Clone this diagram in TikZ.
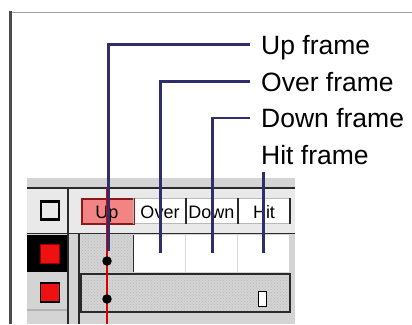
\documentclass[tikz,border=0pt]{standalone}
\usepackage{fontspec}
\setmainfont{Liberation Sans}
\usetikzlibrary{patterns, calc}
\definecolor{navy}{HTML}{2E2E6E}
\definecolor{panel}{HTML}{D4D4D4}
\definecolor{hdr}{HTML}{E9E9E9}
\definecolor{salmon}{HTML}{F48484}
\definecolor{tabred}{HTML}{8A1A1A}
\definecolor{edge}{HTML}{2A2A2A}
\definecolor{keyred}{HTML}{EE1111}

\begin{document}
\begin{tikzpicture}[
  x=1pt, y=-1pt,
  lbl/.style={font=\fontsize{26.5}{30}\selectfont, anchor=west, inner sep=0pt,
              text height=19pt, text depth=0pt},
  tab/.style={rectangle, draw=gray!55, line width=0.8pt, fill=white,
              minimum width=52pt, minimum height=25pt, inner sep=0pt,
              anchor=north west},
  tabtxt/.style={font=\fontsize{18}{20}\selectfont, inner sep=0pt, anchor=base},
  cell/.style={rectangle, draw=none, fill=white, minimum width=52pt,
               minimum height=37pt, inner sep=0pt, anchor=north west},
  hatch/.style={fill=gray!8, pattern=crosshatch dots, pattern color=gray!55},
  keysq/.style={rectangle, fill=keyred, inner sep=0pt, minimum size=19pt},
  dark/.style={draw=edge, line width=1.6pt},
  callout/.style={draw=navy, line width=2.6pt},
  keydot/.style={circle, fill=black, inner sep=0pt, minimum size=9.5pt}
]
\useasboundingbox (0,0) rectangle (412,324);
\fill[white] (0,0) rectangle (412,324);

% --- window edges ---
\draw[gray!75, line width=1.5pt] (11,12.5) -- (412,12.5);
\draw[gray!60!black, line width=3pt] (10,11) -- (10,324);

% --- timeline panel ---
\fill[panel] (27,178) rectangle (295,324);
\fill[hdr] (27,189) rectangle (295,233);
\draw[dark] (27,188) -- (295,188);
\draw[dark] (27,233.5) -- (295,233.5);
\draw[dark] (68,188) -- (68,324);
\draw[dark] (79,233) -- (79,324);
\draw[gray!60, line width=1.2pt] (27,310) -- (67,310);

% --- layer column ---
\node[rectangle, draw=black, line width=2.6pt, fill=hdr, minimum size=18pt,
      inner sep=0pt] (eye) at (50,210.5) {};
\fill[black] (27,235) rectangle (67,272);
\node[keysq, draw=red!60!black, line width=0.6pt] (lay1) at (50,254) {};
\node[keysq, draw=black, line width=1.4pt] (lay2) at (50,292.5) {};

% --- frame tabs ---
\node[tab, fill=salmon, draw=tabred, line width=1.5pt] (tUp) at (81,198) {};
\node[tab] (tOver) at (133,198) {};
\node[tab] (tDown) at (185,198) {};
\node[tab] (tHit)  at (237,198) {};
\draw[tabred, line width=1.5pt] (tUp.north east) -- (tUp.south east);
\draw[dark] (tOver.north east) -- (tOver.south east);
\draw[dark] (tDown.north east) -- (tDown.south east);
\draw[dark] (tHit.north east) -- (tHit.south east);
\node[tabtxt] at (107,218) {Up};
\node[tabtxt] at (160,218) {Over};
\node[tabtxt] at (211.5,218) {Down};
\node[tabtxt] at (264,218) {Hit};

% --- frame cells ---
\node[cell, hatch] (cellUp) at (81,235) {};
\node[cell] (cellOver) at (133,235) {};
\node[cell] (cellDown) at (185,235) {};
\node[cell] (cellHit)  at (237,235) {};
\draw[gray!30, line width=0.6pt] (cellOver.north east) -- (cellOver.south east);
\draw[gray!30, line width=0.6pt] (cellDown.north east) -- (cellDown.south east);
\draw[dark] (cellUp.north east) -- (cellUp.south east);
\node[rectangle, hatch, draw=edge, line width=1.6pt, minimum width=209pt,
      minimum height=38pt, inner sep=0pt, anchor=north west] (row2) at (80,273) {};
\node[rectangle, draw=black, fill=white, line width=1.5pt, minimum width=8pt,
      minimum height=15pt, inner sep=0pt] (endKey) at (262.5,299) {};

% --- playhead ---
\coordinate (headTop) at (107,188);
\coordinate (headEnd) at (107,324);
\draw[red!85!black, line width=1.3pt] (headTop) -- (headEnd);

% --- labels ---
\node[lbl] (lblUp)   at (261,44.5)  {Up frame};
\node[lbl] (lblOver) at (261,81.5)  {Over frame};
\node[lbl] (lblDown) at (261,118)   {Down frame};
\node[lbl] (lblHit)  at (261,154.5) {Hit frame};

% --- callouts ---
\coordinate (hitTop) at ([yshift=-8pt]lblHit.south);
\draw[callout] ([xshift=-11pt]lblUp.west) -| ([xshift=1.5pt,yshift=3pt]cellUp.center);
\draw[callout] ([xshift=-11pt]lblOver.west) -| ([xshift=1pt,yshift=1pt]cellOver.center);
\draw[callout] ([xshift=-11pt]lblDown.west) -| ([xshift=1pt,yshift=1pt]cellDown.center);
\draw[callout] (hitTop -| cellHit.center) -- ([yshift=1pt]cellHit.center);

% --- keyframe dots ---
\node[keydot] (key1) at (107,261) {};
\node[keydot] (key2) at (107,299) {};
\end{tikzpicture}
\end{document}
